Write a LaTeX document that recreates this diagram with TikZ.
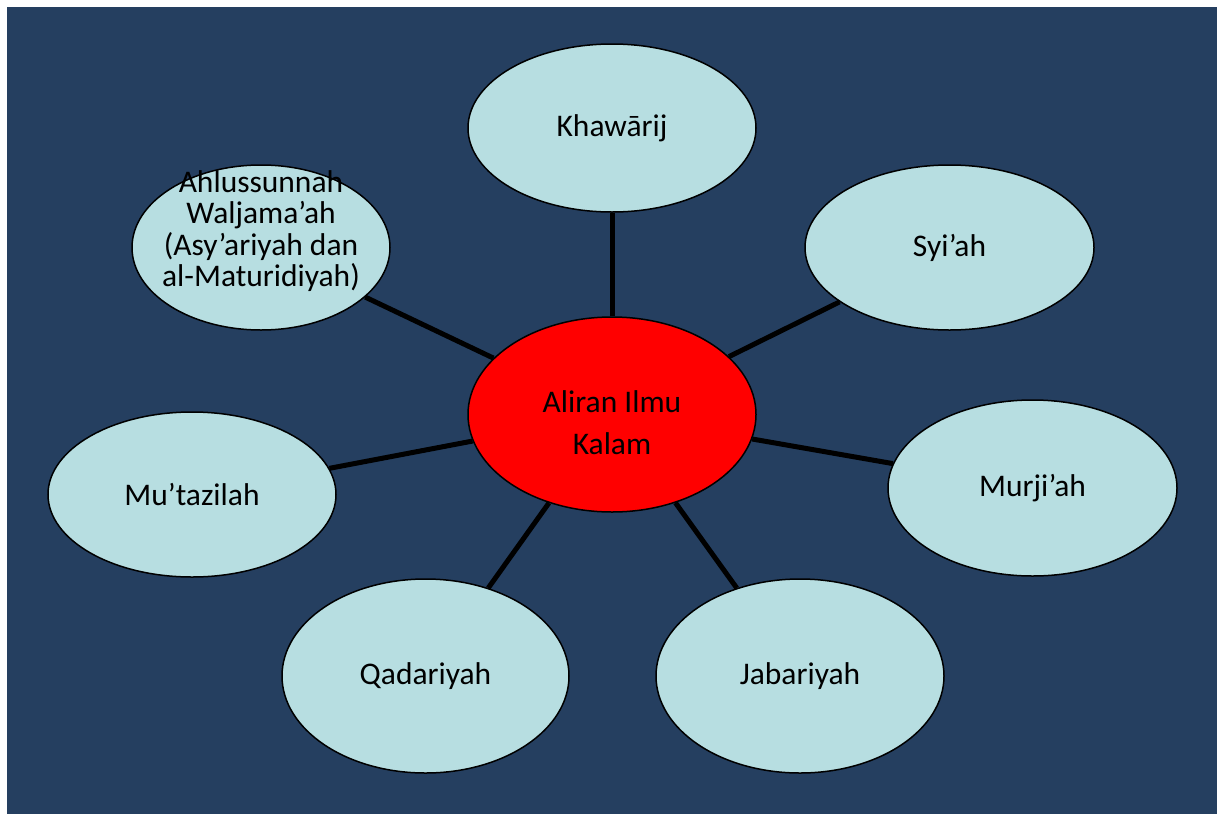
\documentclass[tikz,border=0pt]{standalone}
\usepackage{fontspec}
\setmainfont{Carlito}
\usetikzlibrary{shapes.geometric}
\definecolor{bgblue}{RGB}{37,63,96}
\definecolor{lightcyan}{RGB}{183,222,225}
\definecolor{hubred}{RGB}{255,0,0}
\begin{document}
\begin{tikzpicture}[x=1pt,y=-1pt,
  bubble/.style={ellipse, draw=black, line width=1.5pt, fill=lightcyan, inner sep=0pt,
    font=\fontsize{31.5}{31.5}\selectfont, text=black, align=center},
  hub/.style={bubble, fill=hubred},
  txt/.style={inner sep=0pt, font=\fontsize{31.5}{31.5}\selectfont, text=black, align=center},
  spoke/.style={line width=5pt, draw=black}]
\useasboundingbox (0,0) rectangle (1220,814);
\fill[white] (0,0) rectangle (1220,814);
\fill[bgblue] (7,7) rectangle (1217,814);
\node[hub, minimum width=288pt, minimum height=195pt] (hubN) at (612,414.5) {};
\node[txt, font=\fontsize{31.5}{42}\selectfont] (hubT) at (612,423) {Aliran Ilmu\\Kalam};
\node[bubble, minimum width=288pt, minimum height=168pt] (khw) at (612,128) {Khawārij};
\node[bubble, minimum width=289pt, minimum height=165pt] (syi) at (949.5,247.5) {Syi’ah};
\node[bubble, minimum width=289pt, minimum height=176pt] (mur) at (1032.5,488) {Murji’ah};
\node[bubble, minimum width=288pt, minimum height=194pt] (jab) at (800,676) {Jabariyah};
\node[bubble, minimum width=287pt, minimum height=194pt] (qad) at (425.5,676) {Qadariyah};
\node[bubble, minimum width=288pt, minimum height=165pt] (mut) at (192,494.5) {Mu’tazilah};
\node[bubble, minimum width=258pt, minimum height=165pt] (ahl) at (261,247.5) {};
\node[txt] (ahlT) at (261,231) {Ahlussunnah\\Waljama’ah\\(Asy’ariyah dan\\al-Maturidiyah)};
\draw[spoke] (hubN) -- (khw);
\draw[spoke] (hubN) -- (syi);
\draw[spoke] (hubN) -- (mur);
\draw[spoke] (hubN) -- (jab);
\draw[spoke] (hubN) -- (qad);
\draw[spoke] (hubN) -- (mut);
\draw[spoke] (hubN) -- (ahl);
\end{tikzpicture}
\end{document}
